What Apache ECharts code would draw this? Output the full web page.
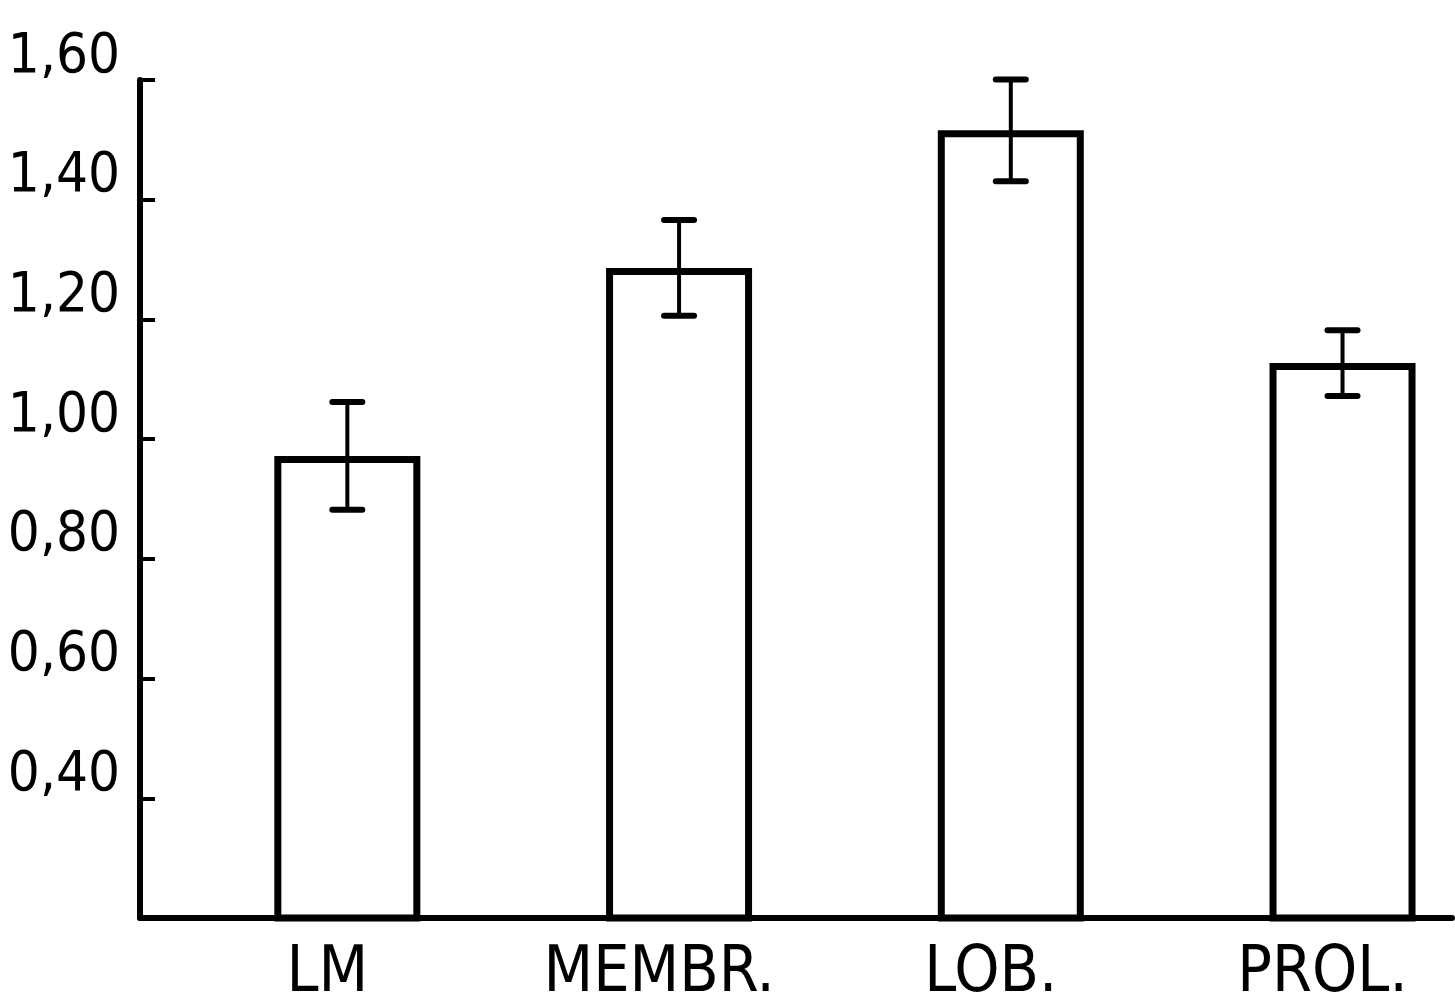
<!DOCTYPE html>
<html>
<head>
<meta charset="utf-8">
<script src="https://cdn.jsdelivr.net/npm/echarts@6/dist/echarts.min.js"></script>
<style>
    html, body { margin: 0; padding: 0; background: #fff; }
    #chart-container { width: 1455px; height: 1007px; }
</style>
</head>
<body>
<div id="chart-container"></div>
<script>
// values
const categories = ['LM', 'MEMBR.', 'LOB.', 'PROL.'];
const positions = [1, 2, 3, 4];
const means = [0.972, 1.286, 1.516, 1.127];
const errors = [0.09, 0.08, 0.085, 0.055];

const fontStack = "'DejaVu Sans Condensed', 'Liberation Sans Narrow', 'Noto Sans', sans-serif";

(function () {
    const chartDom = document.getElementById('chart-container');
    const myChart = echarts.init(chartDom, null, { renderer: 'canvas' });

    let barData = [];
    let errData = [];
    for (let i = 0; i < categories.length; i++) {
        barData.push([positions[i], means[i]]);
        errData.push([positions[i], means[i] - errors[i], means[i] + errors[i]]);
    }

    // draws the I shaped error bars
    function renderError(params, api) {
        const x = api.value(0);
        const low = api.coord([x, api.value(1)]);
        const high = api.coord([x, api.value(2)]);
        const capHalf = 15;
        const capStyle = { stroke: '#000', lineWidth: 6, lineCap: 'round' };
        return {
            type: 'group',
            children: [
                { type: 'line', shape: { x1: low[0], y1: low[1], x2: high[0], y2: high[1] }, style: { stroke: '#000', lineWidth: 4 } },
                { type: 'line', shape: { x1: low[0] - capHalf, y1: low[1], x2: low[0] + capHalf, y2: low[1] }, style: capStyle },
                { type: 'line', shape: { x1: high[0] - capHalf, y1: high[1], x2: high[0] + capHalf, y2: high[1] }, style: capStyle }
            ]
        };
    }

    const option = {
        backgroundColor: '#fff',
        animation: false,
        grid: {
            left: 140,
            right: 3,
            top: 80,
            bottom: 89,
            containLabel: false,
            outerBoundsMode: 'none'
        },
        xAxis: {
            type: 'value',
            min: 0.375,
            max: 4.33,
            splitLine: { show: false },
            axisTick: { show: false },
            axisLine: { lineStyle: { color: '#000', width: 6 } },
            axisLabel: {
                customValues: positions,
                formatter: function (value) {
                    return categories[positions.indexOf(value)] || '';
                },
                color: '#000',
                fontFamily: fontStack,
                fontSize: 64,
                margin: 24,
                padding: [0, 40, 0, 0]
            }
        },
        yAxis: {
            type: 'value',
            min: 0.2,
            max: 1.6,
            interval: 0.2,
            splitLine: { show: false },
            axisLine: { show: true, lineStyle: { color: '#000', width: 6 } },
            axisTick: {
                show: true,
                inside: true,
                length: 15,
                lineStyle: { color: '#000', width: 4 }
            },
            axisLabel: {
                color: '#000',
                fontFamily: fontStack,
                fontSize: 56,
                lineHeight: 46,
                margin: 20,
                verticalAlign: 'bottom',
                formatter: function (value) {
                    if (value < 0.3) return '';
                    return value.toFixed(2).replace('.', ',');
                }
            }
        },
        series: [
            {
                name: 'mean',
                type: 'bar',
                data: barData,
                barWidth: 146,
                itemStyle: {
                    color: '#fff',
                    borderColor: '#000',
                    borderWidth: 7
                }
            },
            {
                name: 'error',
                type: 'custom',
                renderItem: renderError,
                data: errData,
                z: 5
            }
        ]
    };
    myChart.setOption(option);
}());
</script>
</body>
</html>
